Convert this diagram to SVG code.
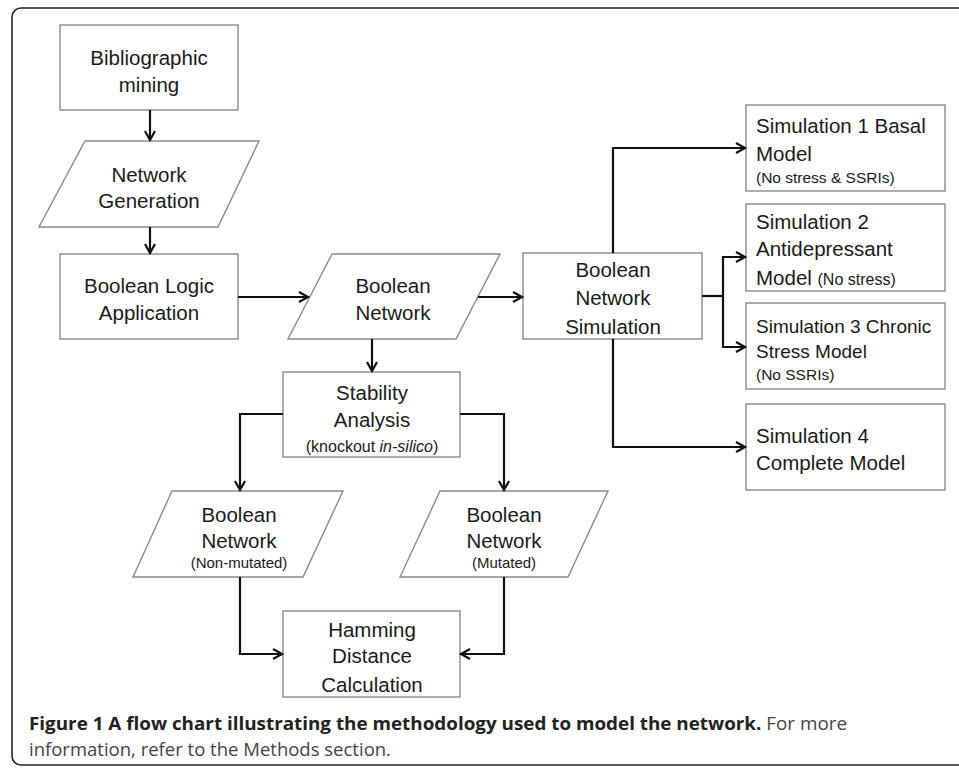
<svg xmlns="http://www.w3.org/2000/svg" width="959" height="769" viewBox="0 0 959 769">
<style>
.box{fill:#fff;stroke:#8a8a8a;stroke-width:1.4}
.t{font-family:"Liberation Sans",Arial,sans-serif;font-size:20.5px;fill:#1a1a1a}
.c{text-anchor:middle}
.s{font-size:15.5px}
.conn{fill:none;stroke:#111;stroke-width:2.2}
.cap{font-family:"Open Sans","Liberation Sans",sans-serif;font-size:18.5px}
</style>
<defs>
<marker id="ar" markerUnits="userSpaceOnUse" markerWidth="14" markerHeight="14" refX="10" refY="6" orient="auto">
<path d="M1,1 L10,6 L1,11" fill="none" stroke="#111" stroke-width="2.2"/>
</marker>
</defs>
<rect x="12" y="8" width="970" height="757" rx="9" fill="#fff" stroke="#222" stroke-width="1.6"/>
<g id="n1"><rect class="box" x="60" y="25" width="178" height="85"/>
<text class="t c" x="149" y="65">Bibliographic</text><text class="t c" x="149" y="92">mining</text></g>
<g id="n2"><polygon class="box" points="85,141 259,141 218,227 39,227"/>
<text class="t c" x="149" y="182">Network</text><text class="t c" x="149" y="208">Generation</text></g>
<g id="n3"><rect class="box" x="60" y="254" width="178" height="85"/>
<text class="t c" x="149" y="293">Boolean Logic</text><text class="t c" x="149" y="320">Application</text></g>
<g id="n4"><polygon class="box" points="332,254 500,254 456,339 288,339"/>
<text class="t c" x="393" y="293">Boolean</text><text class="t c" x="393" y="320">Network</text></g>
<g id="n5"><rect class="box" x="523" y="253" width="179" height="86"/>
<text class="t c" x="613" y="277">Boolean</text><text class="t c" x="613" y="305">Network</text><text class="t c" x="613" y="334">Simulation</text></g>
<g id="n6"><rect class="box" x="746" y="105" width="199" height="86"/>
<text class="t" x="756" y="133">Simulation 1 Basal</text><text class="t" x="756" y="161">Model</text><text class="t s" x="756" y="183">(No stress &amp; SSRIs)</text></g>
<g id="n7"><rect class="box" x="746" y="204" width="199" height="87"/>
<text class="t" x="756" y="229">Simulation 2</text><text class="t" x="756" y="256">Antidepressant</text><text class="t" x="756" y="285">Model <tspan style="font-size:16px">(No stress)</tspan></text></g>
<g id="n8"><rect class="box" x="746" y="303" width="199" height="86"/>
<text class="t" x="756" y="333" style="font-size:19px">Simulation 3 Chronic</text><text class="t" x="756" y="358" style="font-size:19px">Stress Model</text><text class="t s" x="756" y="380">(No SSRIs)</text></g>
<g id="n9"><rect class="box" x="746" y="404" width="199" height="86"/>
<text class="t" x="756" y="443">Simulation 4</text><text class="t" x="756" y="470">Complete Model</text></g>
<g id="n10"><rect class="box" x="283" y="372" width="177" height="85"/>
<text class="t c" x="372" y="400">Stability</text><text class="t c" x="372" y="427">Analysis</text><text class="t c" x="372" y="452" style="font-size:16px">(knockout <tspan font-style="italic">in-silico</tspan>)</text></g>
<g id="n11"><polygon class="box" points="172,491 343,491 303,577 133,577"/>
<text class="t c" x="239" y="522">Boolean</text><text class="t c" x="239" y="548">Network</text><text class="t c" x="239" y="568" style="font-size:15px">(Non-mutated)</text></g>
<g id="n12"><polygon class="box" points="440,491 608,491 568,577 400,577"/>
<text class="t c" x="504" y="522">Boolean</text><text class="t c" x="504" y="548">Network</text><text class="t c" x="504" y="568" style="font-size:15px">(Mutated)</text></g>
<g id="n13"><rect class="box" x="283" y="611" width="177" height="86"/>
<text class="t c" x="372" y="637">Hamming</text><text class="t c" x="372" y="663">Distance</text><text class="t c" x="372" y="692">Calculation</text></g>
<g id="connectors">
<path class="conn" d="M150,110 V140" marker-end="url(#ar)"/>
<path class="conn" d="M150,227 V253" marker-end="url(#ar)"/>
<path class="conn" d="M238,297 H308" marker-end="url(#ar)"/>
<path class="conn" d="M478,297 H522" marker-end="url(#ar)"/>
<path class="conn" d="M613,253 V148 H745" marker-end="url(#ar)"/>
<path class="conn" d="M613,339 V447 H745" marker-end="url(#ar)"/>
<path class="conn" d="M702,296 H723"/>
<path class="conn" d="M723,296 V257 H745" marker-end="url(#ar)"/>
<path class="conn" d="M723,296 V347 H745" marker-end="url(#ar)"/>
<path class="conn" d="M372,339 V371" marker-end="url(#ar)"/>
<path class="conn" d="M283,414 H240 V490" marker-end="url(#ar)"/>
<path class="conn" d="M460,414 H504 V490" marker-end="url(#ar)"/>
<path class="conn" d="M240,577 V654 H282" marker-end="url(#ar)"/>
<path class="conn" d="M504,577 V654 H461" marker-end="url(#ar)"/>
</g>
<text class="cap" x="29" y="730" textLength="818" lengthAdjust="spacingAndGlyphs"><tspan font-weight="bold" fill="#222">Figure 1 A flow chart illustrating the methodology used to model the network.</tspan><tspan fill="#444"> For more</tspan></text>
<text class="cap" x="29" y="756" fill="#444">information, refer to the Methods section.</text>
</svg>
